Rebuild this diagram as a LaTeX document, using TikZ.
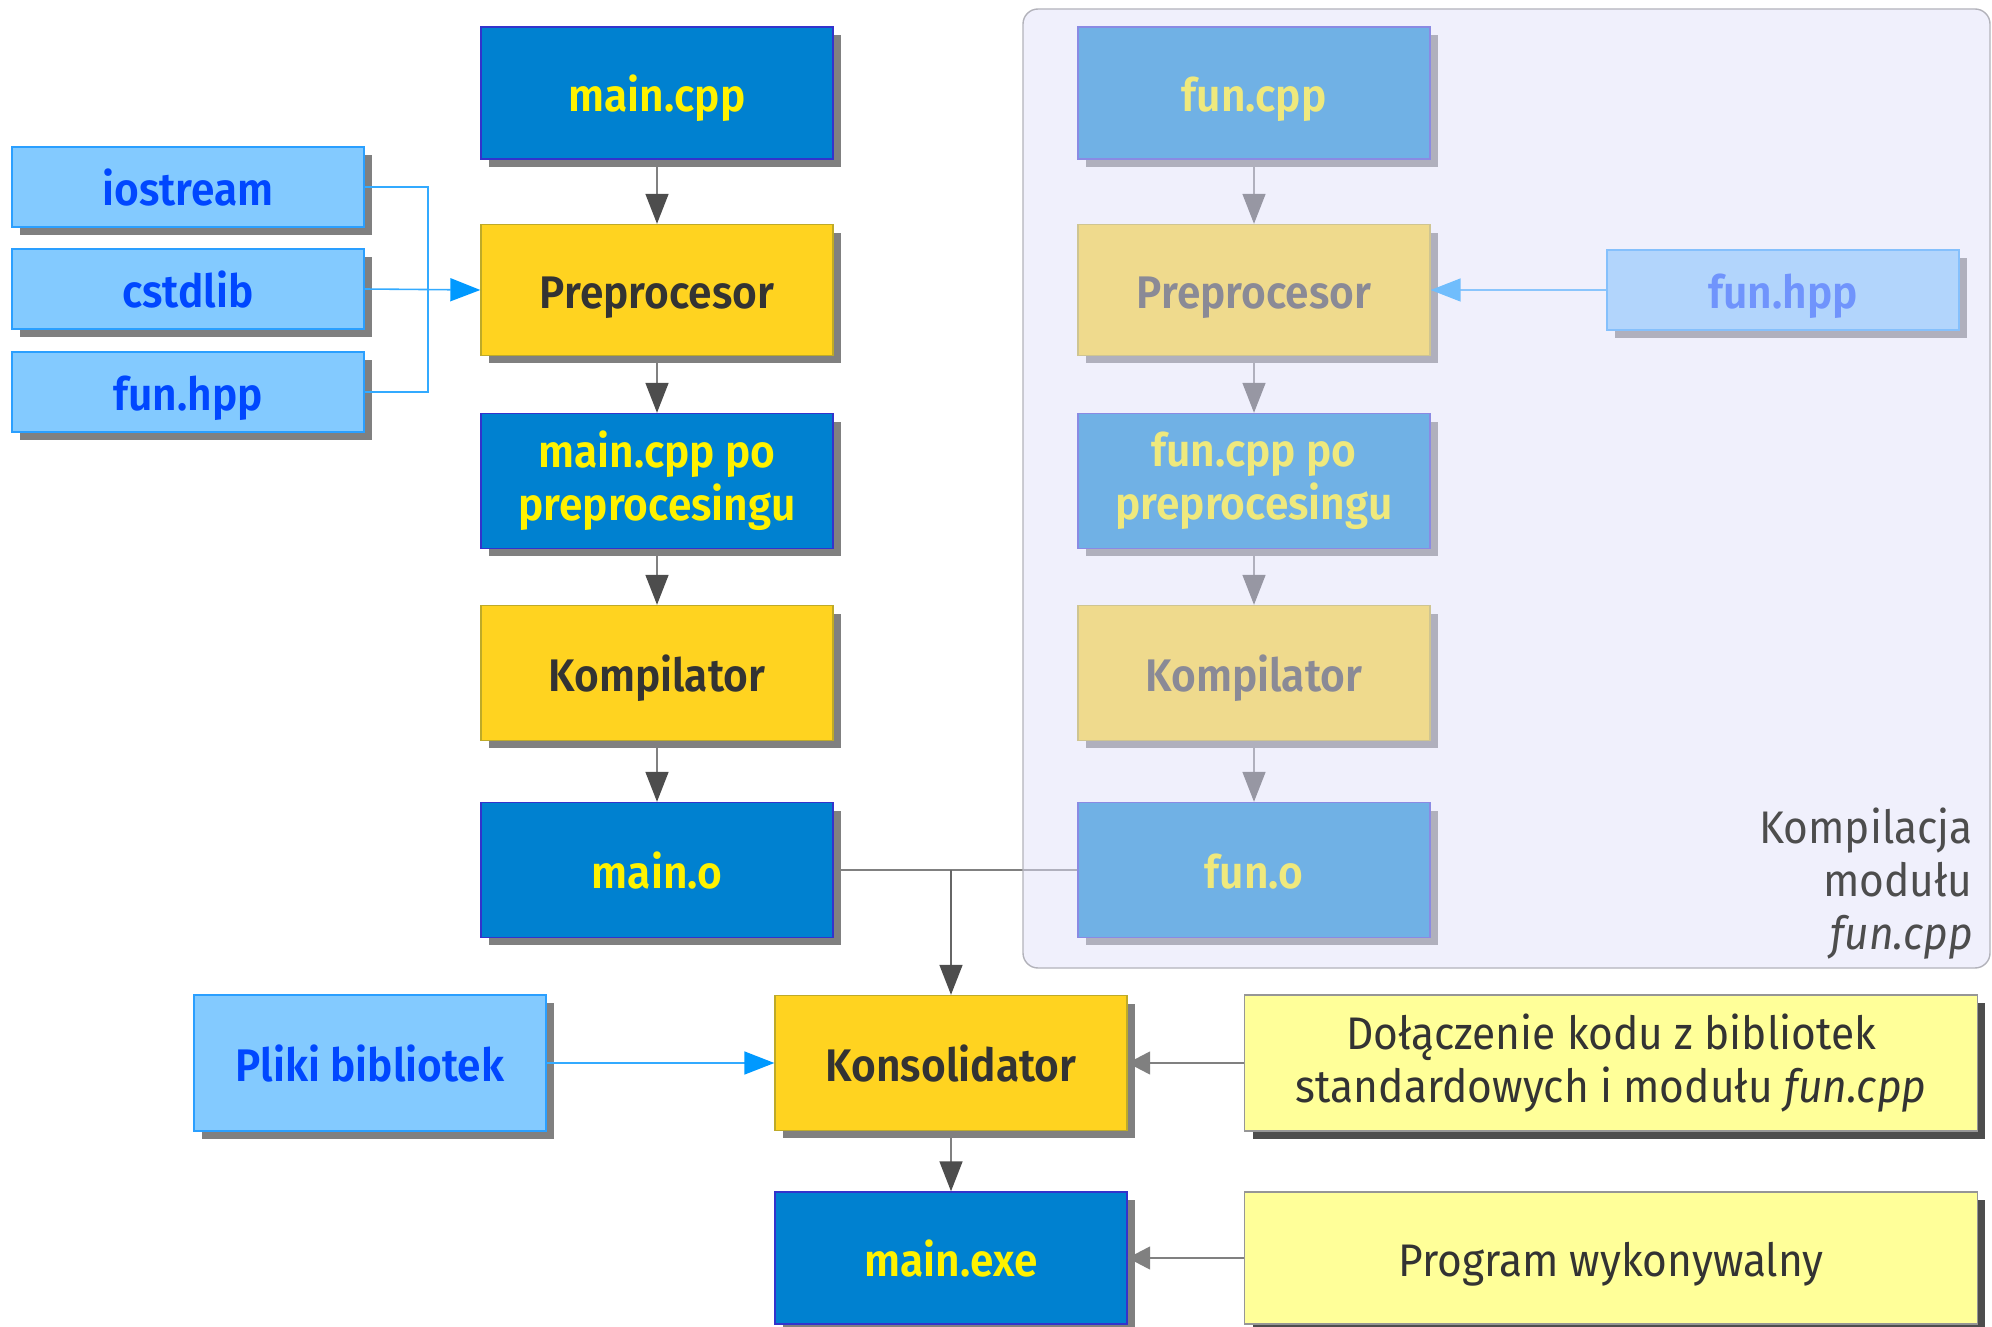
\documentclass[tikz,border=0pt]{standalone}
\usepackage{fontspec}
\setmainfont{Fira Sans}[BoldFont={Fira Sans SemiBold},FakeStretch=0.93]
\usetikzlibrary{arrows.meta,shadows}

\definecolor{boxblue}{RGB}{0,129,208}
\definecolor{boxblueedge}{RGB}{51,51,204}
\definecolor{toolyellow}{RGB}{255,211,32}
\definecolor{toolyellowedge}{RGB}{190,170,40}
\definecolor{libblue}{RGB}{131,202,255}
\definecolor{libblueedge}{RGB}{42,159,255}
\definecolor{libtext}{RGB}{0,71,255}
\definecolor{notefill}{RGB}{255,255,153}
\definecolor{noteedge}{RGB}{150,150,150}
\definecolor{darktext}{RGB}{51,51,51}
\definecolor{shadowgray}{RGB}{128,128,128}
\definecolor{noteshadow}{RGB}{77,77,77}
\definecolor{linegray}{RGB}{128,128,128}
\definecolor{tipdark}{RGB}{77,77,77}
\definecolor{linkblue}{RGB}{51,170,255}
\definecolor{tipblue}{RGB}{0,153,255}
\definecolor{veil}{RGB}{225,225,250}
\definecolor{veiledge}{RGB}{178,178,186}
\definecolor{labeltext}{RGB}{77,77,77}

\begin{document}
\begin{tikzpicture}[x=0.02cm,y=-0.02cm,
  boxbase/.style={rectangle,inner sep=0pt,line width=0.8pt,align=center,
    minimum width=7.04cm,minimum height=2.7cm,
    font=\fontsize{26}{30}\selectfont\bfseries,
    drop shadow={shadow xshift=0.16cm,shadow yshift=-0.16cm,fill=shadowgray,opacity=1}},
  oneline/.style={text height=0.98cm,text depth=0.24cm},
  filebox/.style={boxbase,fill=boxblue,draw=boxblueedge,text=yellow},
  toolbox/.style={boxbase,fill=toolyellow,draw=toolyellowedge,text=darktext},
  libbox/.style={boxbase,fill=libblue,draw=libblueedge,text=libtext,minimum height=1.6cm},
  notebox/.style={rectangle,inner sep=0pt,line width=0.8pt,align=center,
    minimum width=14.66cm,fill=notefill,draw=noteedge,text=darktext,
    font=\fontsize{26}{30}\selectfont,
    drop shadow={shadow xshift=0.16cm,shadow yshift=-0.16cm,fill=noteshadow,opacity=1}},
  flow/.style={draw=linegray,line width=0.9pt,
    -{Triangle[length=0.6cm,width=0.46cm,color=tipdark]}},
  merge/.style={draw=linegray,line width=0.9pt},
  feed/.style={draw=linkblue,line width=0.9pt},
  feedarrow/.style={feed,-{Triangle[length=0.6cm,width=0.46cm,color=tipblue]}},
  hint/.style={draw=linegray,line width=0.9pt,
    -{Triangle[length=0.45cm,width=0.46cm,color=linegray]}}
]
\useasboundingbox (0,0) rectangle (1992,1327);

% main.cpp translation chain
\node[filebox,oneline,minimum height=2.64cm] (maincpp) at (657,93) {main.cpp};
\node[toolbox,oneline,minimum height=2.62cm] (mainpre) at (657,290) {Preprocesor};
\node[filebox] (mainpp) at (657,481) {main.cpp po\\preprocesingu};
\node[toolbox,oneline] (maincomp) at (657,673) {Kompilator};
\node[filebox,oneline] (maino) at (657,870) {main.o};

% headers included by main.cpp
\node[libbox,oneline] (iostream) at (188,187) {iostream};
\node[libbox,oneline] (cstdlib) at (188,289) {cstdlib};
\node[libbox,oneline] (funhppA) at (188,392) {fun.hpp};

% fun.cpp translation chain
\node[filebox,oneline,minimum height=2.64cm] (funcpp) at (1254,93) {fun.cpp};
\node[toolbox,oneline,minimum height=2.62cm] (funpre) at (1254,290) {Preprocesor};
\node[filebox] (funpp) at (1254,481) {fun.cpp po\\preprocesingu};
\node[toolbox,oneline] (funcomp) at (1254,673) {Kompilator};
\node[filebox,oneline] (funo) at (1254,870) {fun.o};
\node[libbox,oneline] (funhppB) at (1783,290) {fun.hpp};

% linking
\node[toolbox,oneline] (linker) at (951,1063) {Konsolidator};
\node[filebox,oneline,minimum height=2.64cm] (mainexe) at (951,1258) {main.exe};
\node[libbox,oneline,minimum height=2.72cm] (libs) at (370,1063) {Pliki bibliotek};

% explanatory notes
\node[notebox,minimum height=2.72cm] (note1) at (1611,1063)
  {Dołączenie kodu z bibliotek\\standardowych i modułu \textit{fun.cpp}};
\node[notebox,oneline,minimum height=2.64cm] (note2) at (1611,1258) {Program wykonywalny};

% connectors
\draw[flow] (maincpp) -- (mainpre);
\draw[flow] (mainpre) -- (mainpp);
\draw[flow] (mainpp) -- (maincomp);
\draw[flow] (maincomp) -- (maino);

\coordinate (hjoin) at (428,289);
\draw[feed] (iostream.east) -| (hjoin);
\draw[feed] (funhppA.east) -| (hjoin);
\draw[feedarrow] (cstdlib.east) -- (mainpre.west);

\draw[flow] (funcpp) -- (funpre);
\draw[flow] (funpre) -- (funpp);
\draw[flow] (funpp) -- (funcomp);
\draw[flow] (funcomp) -- (funo);
\draw[feedarrow] (funhppB.west) -- (funpre.east);

\coordinate (ojoin) at (linker.north |- maino.east);
\draw[merge] (maino.east) -- (funo.west);
\draw[flow,draw=black!60] (ojoin) -- (linker.north);

\draw[feedarrow] (libs.east) -- (linker.west);
\draw[flow] (linker) -- (mainexe);
\draw[hint] (note1.west) -- (linker.east);
\draw[hint] (note2.west) -- (mainexe.east);

% translucent frame around the fun.cpp module
\fill[veil,opacity=0.5,rounded corners=0.3cm] (1023,9) rectangle (1990,968);
\draw[veiledge,line width=0.8pt,rounded corners=0.3cm] (1023,9) rectangle (1990,968);
\node[anchor=north east,align=right,inner sep=0pt,text=labeltext,
  font=\fontsize{26}{30}\selectfont] (modlabel) at (1973,808)
  {Kompilacja\\modułu\\\textit{fun.cpp}};
\end{tikzpicture}
\end{document}
